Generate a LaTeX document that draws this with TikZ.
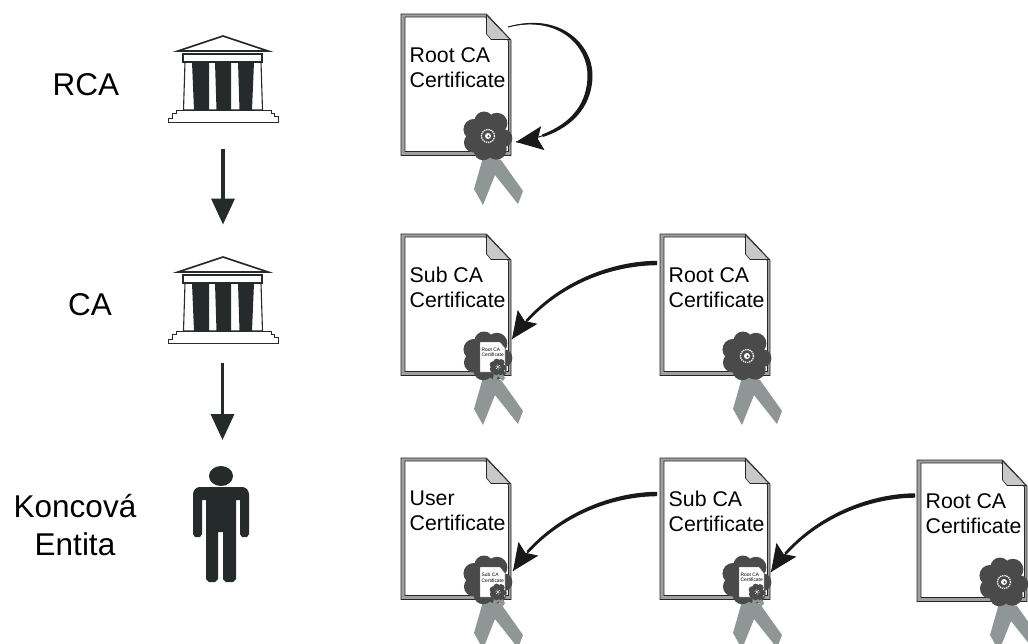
\documentclass[tikz,border=0pt]{standalone}
\usepackage{fontspec}
\setmainfont{Liberation Sans}
\usetikzlibrary{arrows.meta,decorations.markings}
\definecolor{inkc}{HTML}{252A2B}
\definecolor{sealc}{HTML}{4A4A4A}
\definecolor{ribc}{HTML}{8F9696}
\definecolor{foldc}{HTML}{C8C8C8}
\definecolor{framec}{HTML}{A0A0A0}
\tikzset{
  lbl/.style={font=\fontsize{31.5}{37.5}\selectfont,align=center,inner sep=0pt},
  doctext/.style={font=\fontsize{21.3}{25}\selectfont,align=left,inner sep=0pt,anchor=north west},
  minitext/.style={font=\fontsize{4.9}{5.8}\selectfont,align=left,inner sep=0pt,anchor=north west},
  temple/.style={draw=inkc,line width=1.1pt,fill=white,line join=miter},
  column/.style={fill=inkc,draw=none},
  hierarrow/.style={draw=inkc,line width=3.6pt,-{Triangle[length=26pt,width=23pt]}},
  signarrow/.style={draw=black!90,line width=1pt,postaction={decorate},
    decoration={markings,mark=at position 1 with {\arrow{Stealth[length=27pt,width=24pt,inset=5pt]}}}},
  signtaper/.style={fill=black!90,draw=none},
}
% rosette: #1 = scale
\newcommand{\myrosette}[1]{%
  \begin{scope}[scale=#1]
    \fill[sealc] (0,0) circle (15);
    \foreach \a/\r in {8/9,58/10.5,108/9.5,155/10,205/10.5,255/9.5,305/10.5}
      \fill[sealc] (\a:15.5) circle (\r);
    \draw[white,line width=1.3pt*#1,dash pattern=on 1.3pt off .9pt] (0,0) circle (6.5);
    \fill[white] (0,0) circle (3);
    \fill[sealc] (0.5,0.3) circle (1.2);
  \end{scope}}
% ribbon + sheet: #1 x, #2 y, #3 name, #4 text
\newcommand{\mysheet}[4]{%
  \begin{scope}[shift={(#1,#2)}]
    \fill[ribc] (83,140) -- (73,175) -- (82,191) -- (94,161) -- (117,190) -- (122,177) -- (100,146) -- cycle;
    \draw[black!85,line width=.7pt,fill=framec] (0,0) -- (85.5,0) -- (110,26) -- (110,141.5) -- (0,141.5) -- cycle;
    \draw[black!85,line width=.7pt,fill=white] (4,3) -- (84.5,3) -- (107.5,27) -- (107.5,137.5) -- (4,137.5) -- cycle;
    \draw[black!85,line width=.6pt,fill=foldc] (85.5,1) -- (85.5,20) -- (90,25.5) -- (109,25.5) -- cycle;
    \node[doctext] (#3) at (8.5,33) {#4};
    \begin{scope}[shift={(87,122)}]\myrosette{1}\end{scope}
  \end{scope}}
% small certificate on the seal: #1 centre, #2 name, #3 text
\newcommand{\myinset}[3]{%
  \begin{scope}[shift={(#1)}]
    \fill[ribc] (6,17) -- (5,24) -- (8,26) -- (10,21) -- (15,26) -- (17,23) -- (12,15) -- cycle;
    \draw[black!60,line width=.4pt,fill=white] (-8,-13) -- (12,-13) -- (17,-7) -- (17,17) -- (-8,17) -- cycle;
    \node[minitext] (#2) at (-6.5,-7.5) {#3};
    \begin{scope}[shift={(10,12)}]\myrosette{.34}\end{scope}
  \end{scope}}
% temple: #1 y offset
\newcommand{\mytemple}[1]{%
  \begin{scope}[shift={(0,#1)}]
    \draw[temple,line width=1.6pt,line join=miter] (178,51) -- (223,36) -- (268,51) -- cycle;
    \draw[temple] (185,62) -- (183.5,110) -- (262.5,110) -- (261,62);
    \fill[column] (192,62) -- (209,62) -- (209,110) -- (194,110) -- cycle;
    \fill[column] (215,62) -- (231,62) -- (231,110) -- (216.5,110) -- cycle;
    \fill[column] (238,62) -- (254,62) -- (252,110) -- (239.5,110) -- cycle;
    \draw[temple,line width=1.5pt] (183,54) rectangle (262,62);
    \draw[temple,line width=.9pt] (176,110) -- (271,110) -- (271,113) -- (274,113) -- (274,116.5) -- (278,116.5) -- (278,122) -- (168.5,122) -- (168.5,118) -- (172,118) -- (172,113) -- (176,113) -- cycle;
  \end{scope}}
% thick part of a signing connector: #1 shift, #2 start coordinate
\newcommand{\mylens}[2]{%
  \begin{scope}[shift={(#1)}]
    \coordinate (lens-a) at (615.6,261);
    \coordinate (lens-b) at (563,278.5);
    \coordinate (lens-c) at (525.5,320.2);
    \coordinate (lens-f) at (527.7,321.7);
    \coordinate (lens-d) at (565,281.5);
    \coordinate (lens-e) at (615.6,265.5);
  \end{scope}
  \fill[signtaper] ([yshift=2.2pt]#2) .. controls (lens-a) and (lens-b) .. (lens-c) -- (lens-f) .. controls (lens-d) and (lens-e) .. ([yshift=-2.2pt]#2) -- cycle;}
\begin{document}
\begin{tikzpicture}[x=1pt,y=-1pt]
\useasboundingbox (0,0) rectangle (1028,643);
\fill[white] (0,0) rectangle (1028,643);
% left column
\node[lbl] (rca) at (86,84.5) {RCA};
\node[lbl] (ca) at (90,304.5) {CA};
\node[lbl] (ee) at (75,525) {Koncová\\Entita};
\mytemple{0}
\mytemple{221}
% person
\fill[inkc] (221,476) ellipse (12 and 10);
\fill[inkc] (199,487) -- (243,487) .. controls (247,488) and (249,491) .. (249,495) -- (249,534) -- (247,537) -- (242,537) -- (240,534) -- (240,500) -- (236,500) -- (236,579) -- (233,582) -- (226,582) -- (223,579) -- (223,532) -- (218,532) -- (218,579) -- (215,582) -- (209,582) -- (206,579) -- (206,500) -- (202,500) -- (202,534) -- (200,537) -- (195,537) -- (193,534) -- (193,495) .. controls (193,491) and (195,488) .. (199,487) -- cycle;
% hierarchy connectors
\coordinate (a1s) at (223,149);
\coordinate (a1e) at (223,224.5);
\coordinate (a2s) at (222.5,363);
\coordinate (a2e) at (222.5,440);
\draw[hierarrow] (a1s) -- (a1e);
\draw[hierarrow] (a2s) -- (a2e);
% certificates
\mysheet{401}{14}{r1}{Root CA\\Certificate}
\mysheet{401}{234}{s2}{Sub CA\\Certificate}
\myinset{488,355}{i2}{Root CA\\Certificate}
\mysheet{660}{234}{r2}{Root CA\\Certificate}
\mysheet{401}{458}{u3}{User\\Certificate}
\myinset{488,580}{i3}{Sub CA\\Certificate}
\mysheet{660}{458}{s3}{Sub CA\\Certificate}
\myinset{747,580}{i4}{Root CA\\Certificate}
\mysheet{917}{460}{r3}{Root CA\\Certificate}
% connector ends
\coordinate (r1-top) at (508,27);
\coordinate (r1-seal) at (516,142);
\coordinate (r2-side) at (657,263);
\coordinate (s2-seal) at (512,339);
\coordinate (s3-side) at (657,494);
\coordinate (u3-seal) at (513,571);
\coordinate (r3-side) at (915,495.5);
\coordinate (s3-seal) at (771,572);
% signing connectors
\draw[signarrow] (r1-top) .. controls (560,13) and (590,45) .. (590,75) .. controls (590,110) and (565,135) .. (r1-seal);
\fill[signtaper] (r1-top) .. controls (560,11) and (592.5,45) .. (592.5,75) .. controls (592.5,103) and (576,126) .. (543,137) -- (542,134.5) .. controls (572,123) and (587.5,103) .. (587.5,75) .. controls (587.5,47) and (560,15) .. (r1-top) -- cycle;
\draw[signarrow] (r2-side) .. controls (610,263) and (550,285) .. (s2-seal);
\mylens{0,0}{r2-side}
\draw[signarrow] (s3-side) .. controls (610,494) and (551,516) .. (u3-seal);
\mylens{1,231}{s3-side}
\draw[signarrow] (r3-side) .. controls (868,495.5) and (809,517) .. (s3-seal);
\mylens{259,232.5}{r3-side}
\end{tikzpicture}
\end{document}
